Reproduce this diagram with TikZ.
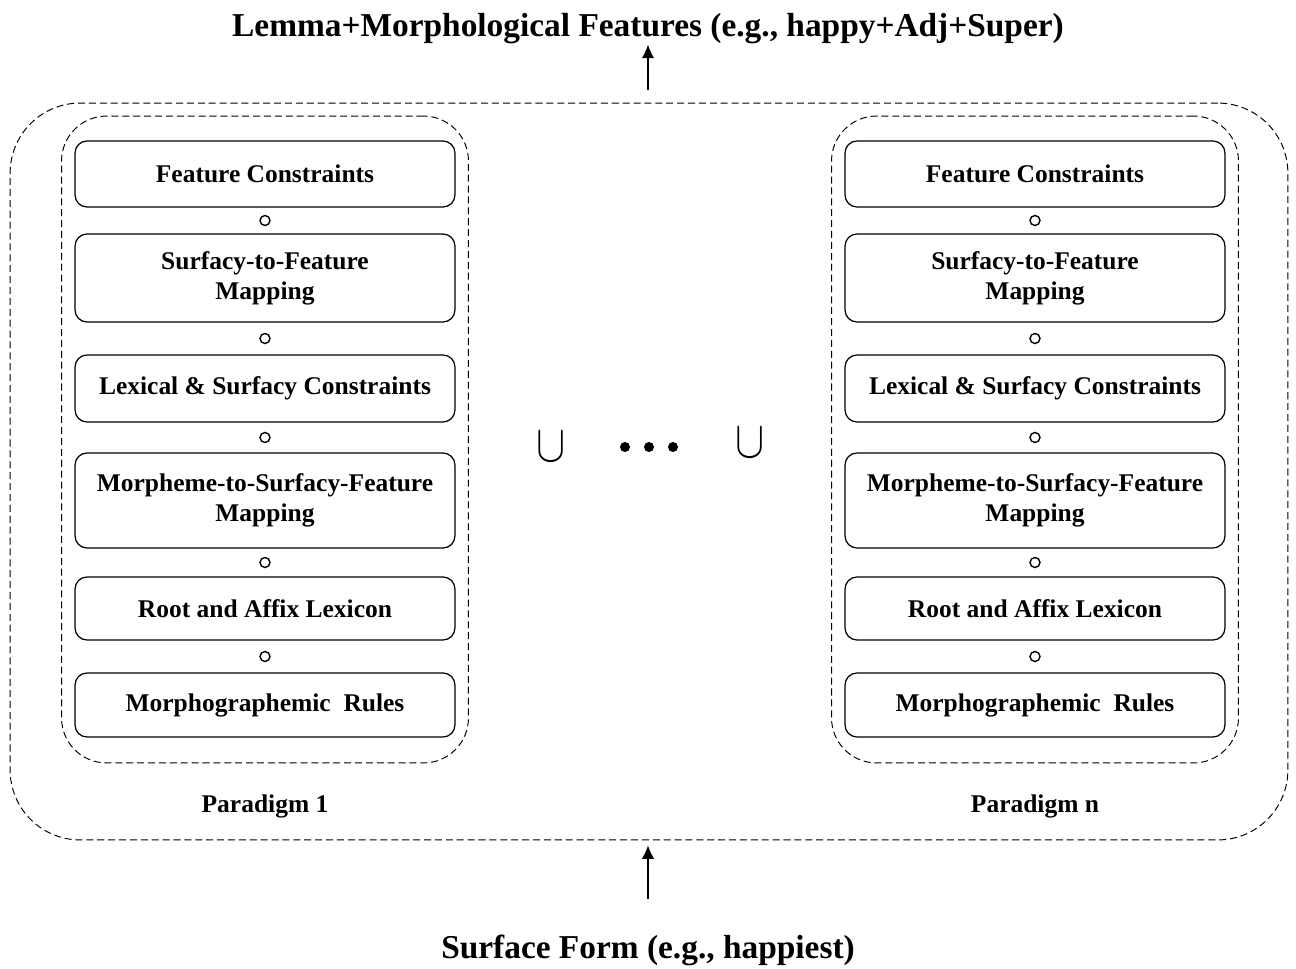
\documentclass[tikz,border=0pt]{standalone}
\usepackage{fontspec}
\setmainfont{Liberation Serif}
\usetikzlibrary{arrows.meta,calc}

\tikzset{
	stagebox/.style={draw, line width=0.7pt, rounded corners=0.24cm, minimum width=7.6cm,
		align=center, inner sep=0pt, font=\fontsize{14.5}{17}\selectfont\bfseries},
	compose/.style={draw, circle, line width=0.8pt, minimum size=0.2cm, inner sep=0pt},
	paradigmbox/.style={draw, dash pattern=on 4pt off 2.2pt, line width=0.55pt,
		rounded corners=0.9cm, minimum width=8.14cm, minimum height=12.94cm},
	outerbox/.style={draw, dash pattern=on 4pt off 2.2pt, line width=0.55pt,
		rounded corners=1.4cm, minimum width=25.56cm, minimum height=14.74cm},
	paralabel/.style={font=\fontsize{14.5}{17}\selectfont\bfseries},
	heading/.style={anchor=base, inner sep=0pt, font=\fontsize{19}{22}\selectfont\bfseries},
	unionsym/.style={font=\fontsize{24}{24}\selectfont},
	dotmark/.style={circle, fill, minimum size=0.2cm, inner sep=0pt},
	flow/.style={-{Latex[length=0.27cm,width=0.25cm]}, line width=0.7pt}
}

\newcommand{\myCompose}[3]{
\node[compose] (#3) at ($(#1.south)!.5!(#2.north)$) {};
}
\newcommand{\myParadigm}[3]{
\node[paradigmbox] (#1) at (#2,439.5) {};
\node[stagebox, minimum height=1.32cm] (#1fc) at (#2,174) {Feature Constraints};
\node[stagebox, minimum height=1.76cm] (#1sf) at (#2,278) {Surfacy-to-Feature\\Mapping};
\node[stagebox, minimum height=1.34cm] (#1ls) at (#2,388.5) {Lexical \& Surfacy Constraints};
\node[stagebox, minimum height=1.9cm] (#1ms) at (#2,500.5) {Morpheme-to-Surfacy-Feature\\Mapping};
\node[stagebox, minimum height=1.26cm] (#1ra) at (#2,608.5) {Root and Affix Lexicon};
\node[stagebox, minimum height=1.28cm] (#1mr) at (#2,705) {Morphographemic\ \ Rules};
% composition marks
\myCompose{#1fc}{#1sf}{#1c1}
\myCompose{#1sf}{#1ls}{#1c2}
\myCompose{#1ls}{#1ms}{#1c3}
\myCompose{#1ms}{#1ra}{#1c4}
\myCompose{#1ra}{#1mr}{#1c5}
\node[paralabel] (#1name) at (#2,806) {#3};
}

\begin{document}
\begin{tikzpicture}[x=0.02cm, y=-0.02cm]
	\useasboundingbox (0,0) rectangle (1296,969);

	\node[outerbox] (union) at (649,471.5) {};

	\myParadigm{pone}{265}{Paradigm 1}
	\myParadigm{pn}{1035}{Paradigm n}

	\node[unionsym] (cupl) at (551,447) {\scalebox{1}[1.2]{$\cup$}};
	\node[unionsym] (cupr) at (750,443) {\scalebox{1}[1.2]{$\cup$}};
	\foreach \i/\x in {1/625,2/649,3/673}
		\node[dotmark] (dot\i) at (\x,447) {};

	\node[heading] (lemma) at (648,37) {Lemma+Morphological Features (e.g., happy+Adj+Super)};
	\node[heading] (surface) at (648,958) {Surface Form (e.g., happiest)};

	\draw[flow, shorten <=0.7cm, shorten >=0.1cm] (surface.north) -- (surface.north |- union.south);
	\draw[flow, shorten <=0.26cm] (lemma.south |- union.north) -- (lemma.south);
\end{tikzpicture}
\end{document}
